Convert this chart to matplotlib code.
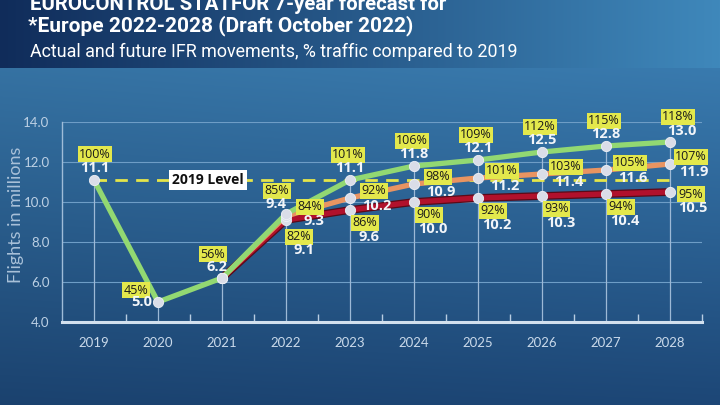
import numpy as np
import matplotlib
matplotlib.use("Agg")
import matplotlib.pyplot as plt
from matplotlib.colors import to_rgb

# ---------------- data ----------------
years = [2019, 2020, 2021, 2022, 2023, 2024, 2025, 2026, 2027, 2028]
high_values = [11.1, 5.0, 6.2, 9.4, 11.1, 11.8, 12.1, 12.5, 12.8, 13.0]
high_pct = [100, 45, 56, 85, 101, 106, 109, 112, 115, 118]

scen_years = [2021, 2022, 2023, 2024, 2025, 2026, 2027, 2028]
base_values = [6.2, 9.3, 10.2, 10.9, 11.2, 11.4, 11.6, 11.9]
base_pct = [56, 84, 92, 98, 101, 103, 105, 107]
low_values = [6.2, 9.1, 9.6, 10.0, 10.2, 10.3, 10.4, 10.5]
low_pct = [56, 82, 86, 90, 92, 93, 94, 95]

level_2019 = 11.1
y_ticks = [4.0, 6.0, 8.0, 10.0, 12.0, 14.0]

# ---------------- figure ----------------
W, H, DPI = 720, 405, 100
fig = plt.figure(figsize=(W / DPI, H / DPI), dpi=DPI)

# background gradient
bg = fig.add_axes([0, 0, 1, 1], zorder=-10)
xs = np.linspace(0, 1, W)[None, :, None]
ys = np.arange(H)[:, None, None]
hl, hr = np.array(to_rgb("#102c5a")), np.array(to_rgb("#3f88bb"))
header = hl + (hr - hl) * xs
ct, cb = np.array(to_rgb("#3878ab")), np.array(to_rgb("#1c4574"))
t = np.clip((ys - 68) / (H - 68), 0, 1)
body = ct + (cb - ct) * t
body = body * (0.95 + 0.07 * xs)
img = np.where(ys < 68, np.broadcast_to(header, (H, W, 3)), np.broadcast_to(body, (H, W, 3)))
bg.imshow(np.clip(img, 0, 1), extent=[0, 1, 0, 1], aspect="auto", interpolation="bilinear")
bg.axis("off")


def fx(px):
    return px / W


def fy(py):
    return 1 - py / H


fig.text(fx(30), fy(4), "EUROCONTROL STATFOR 7-year forecast for", color="white",
         fontsize=14.7, fontweight="bold", family="Roboto", ha="left", va="center")
fig.text(fx(28), fy(26), "*Europe 2022-2028 (Draft October 2022)", color="white",
         fontsize=15, fontweight="bold", family="Roboto", ha="left", va="center")
fig.text(fx(30), fy(52), "Actual and future IFR movements, % traffic compared to 2019",
         color="white", fontsize=12.9, family="Roboto", ha="left", va="center")

# main axes
ax = fig.add_axes([fx(62), fy(322), fx(702) - fx(62), fy(122) - fy(322)])
ax.set_facecolor("none")
ax.set_xlim(2018.5, 2028.5)
ax.set_ylim(4.0, 14.0)

light = "#c9d9ea"
for yv in y_ticks[1:]:
    ax.axhline(yv, color="#6e9dc6", lw=0.8, zorder=1)

for s in ["top", "right"]:
    ax.spines[s].set_visible(False)
ax.spines["left"].set_color("#9fbcd8")
ax.spines["left"].set_linewidth(1.0)
ax.spines["bottom"].set_color("#d2e0ee")
ax.spines["bottom"].set_linewidth(2.2)

ax.set_yticks(y_ticks)
ax.set_yticklabels([f"{v:.1f}" for v in y_ticks], family="Lato", fontsize=9.5, color="#bcd0e4")
ax.set_xticks(years)
ax.set_xticklabels([str(y) for y in years], family="Lato", fontsize=9.5, color=light)
ax.set_xticks([y + 0.5 for y in years[:-1]] + [2028.5], minor=True)
ax.tick_params(axis="x", which="major", length=0, pad=11)
ax.tick_params(axis="x", which="minor", direction="in", length=6, width=1, color="#b8cde2")
ax.tick_params(axis="y", length=0, pad=9)
ax.set_ylabel("Flights in millions", family="Lato", fontsize=13, color="#a9c1d9")
ax.yaxis.set_label_coords(-0.06, 0.535)

# drop lines
tops = {}
for yr, v in zip(years, high_values):
    tops[yr] = max(tops.get(yr, 0), v)
for yr, v in zip(scen_years, base_values):
    tops[yr] = max(tops[yr], v)
for yr in years:
    ax.plot([yr, yr], [4.0, tops[yr]], color="#9db9d6", lw=0.9, zorder=2)

# 2019 level line
ax.plot([years[0], years[-1]], [level_2019, level_2019], color="#e4e54a", lw=2.0,
        dashes=(4.5, 3.0), zorder=3)
ax.text(2020.78, level_2019, "2019 Level", ha="center", va="center", fontsize=10,
        fontweight="bold", family="Open Sans", color="#111111", zorder=4,
        bbox=dict(boxstyle="square,pad=0.25", fc="white", ec="none"))

# series lines
marker_c = "#dadde8"
ax.plot(scen_years, low_values, color="#5a0a18", lw=5.6, zorder=5, solid_capstyle="round")
ax.plot(scen_years, low_values, color="#b1112c", lw=3.8, zorder=5.1, solid_capstyle="round")
ax.plot(scen_years, base_values, color="#e99461", lw=3.8, zorder=6, solid_capstyle="round")
ax.plot(years, high_values, color="#92d872", lw=3.8, zorder=7, solid_capstyle="round")
for xs_, vs_ in [(scen_years, low_values), (scen_years, base_values), (years, high_values)]:
    ax.plot(xs_, vs_, ls="none", marker="o", ms=7.4, mfc=marker_c, mec="#eef0f6",
            mew=0.6, zorder=8)

PT = 0.72  # points per pixel


def label(x, y, pct, val, dp, dv):
    ax.annotate(f"{pct}%", (x, y), xytext=(dp[0] * PT, dp[1] * PT), textcoords="offset points",
                ha="center", va="center", fontsize=9, family="Open Sans", color="#1a1a1a",
                zorder=9, annotation_clip=False,
                bbox=dict(boxstyle="square,pad=0.1", fc="#e3e84c", ec="none"))
    ax.annotate(f"{val:.1f}", (x, y), xytext=(dv[0] * PT, dv[1] * PT), textcoords="offset points",
                ha="center", va="center", fontsize=10.5, family="Open Sans", fontweight="bold",
                color="#f2f5f9", zorder=9, annotation_clip=False)


green_off = {2019: ((1, 26), (1, 12)), 2020: ((-22, 12), (-16, 0)),
             2021: ((-9, 24), (-5, 11)), 2022: ((-9, 23), (-10, 10))}
for yr, v, p in zip(years, high_values, high_pct):
    dp, dv = green_off.get(yr, ((-2, 25), (0, 12)))
    if yr == 2028:
        dp, dv = ((8, 25), (12, 11))
    label(yr, v, p, v, dp, dv)

for yr, v, p in zip(scen_years[1:], base_values[1:], base_pct[1:]):
    dp, dv = ((24, 7), (27, -8))
    if yr == 2022:
        dp, dv = ((24, 9), (28, -5))
    if yr == 2028:
        dp, dv = ((21, 7), (24, -8))
    label(yr, v, p, v, dp, dv)

for yr, v, p in zip(scen_years[1:], low_values[1:], low_pct[1:]):
    dp, dv = ((15, -13), (19, -27))
    if yr == 2022:
        dp, dv = ((13, -17), (18, -30))
    if yr == 2028:
        dp, dv = ((21, -2), (23, -16))
    label(yr, v, p, v, dp, dv)

fig.savefig("out.png", dpi=DPI)
